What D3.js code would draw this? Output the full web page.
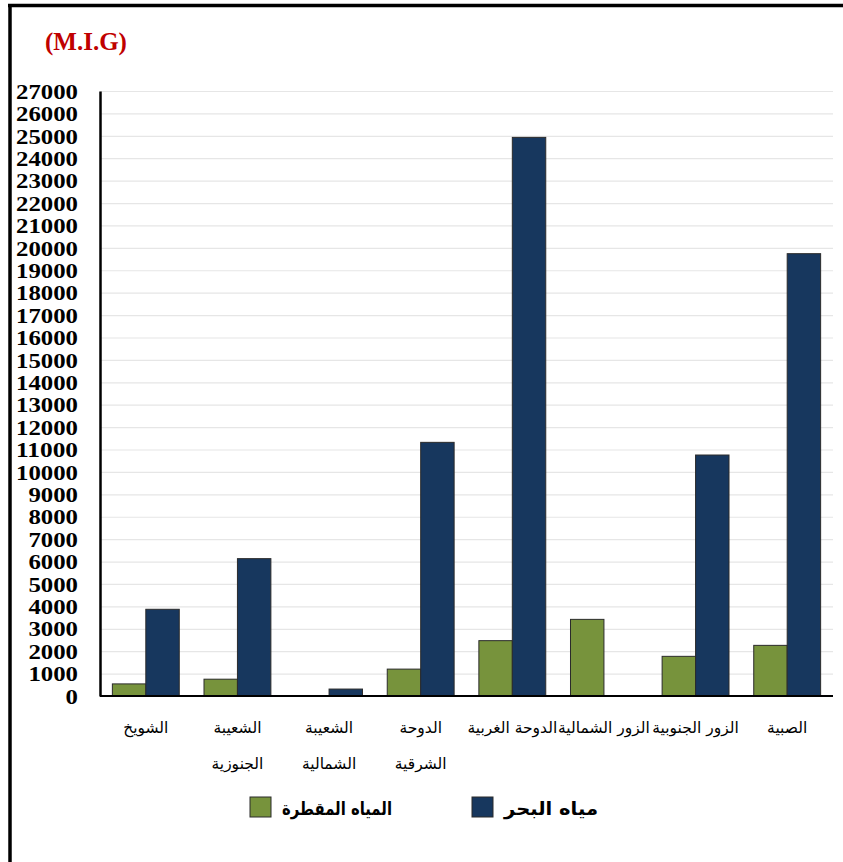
<!DOCTYPE html>
<html>
<head>
<meta charset="utf-8">
<script src="https://cdn.jsdelivr.net/npm/d3@7"></script>
<style>
  body { margin: 0; background: #fff; }
  svg { display: block; }
</style>
</head>
<body>
<svg id="chart" width="843" height="862"></svg>
<script>
// المحطات
const categories = ['الشويخ', 'الشعيبة الجنوزية', 'الشعيبة الشمالية', 'الدوحة الشرقية', 'الدوحة الغربية', 'الزور الشمالية', 'الزور الجنوبية', 'الصبية']
// labels that wrap onto two lines
const labelLines = [['الشويخ'], ['الشعيبة', 'الجنوزية'], ['الشعيبة', 'الشمالية'], ['الدوحة', 'الشرقية'], ['الدوحة الغربية'], ['الزور الشمالية'], ['الزور الجنوبية'], ['الصبية']]
const seriesNames = ['المياه المقطرة', 'مياه البحر']
const distilled = [540, 750, 0, 1200, 2470, 3420, 1770, 2260]
const seawater = [3870, 6130, 310, 11320, 24930, 0, 10755, 19740]
const yTicks = d3.range(0, 27001, 1000)
const unitLabel = '(M.I.G)'

const colors = ['#77933c', '#17375e']

const svg = d3.select('#chart')
const margin = { left: 100, right: 10, top: 91, bottom: 166 }
const width = +svg.attr('width')
const height = +svg.attr('height')

// frame (top + left edges only visible)
svg.append('line').attr('x1', 8).attr('x2', width).attr('y1', 5.5).attr('y2', 5.5)
  .attr('stroke', '#000').attr('stroke-width', 3.5)
svg.append('line').attr('x1', 10).attr('x2', 10).attr('y1', 4).attr('y2', height)
  .attr('stroke', '#000').attr('stroke-width', 3.5)

const x = d3.scaleBand()
  .domain(categories)
  .range([margin.left, 833])
  .paddingInner(0.27)
  .paddingOuter(0.135)

const x1 = d3.scaleBand().domain(seriesNames).range([0, x.bandwidth()])

const y = d3.scaleLinear().domain([0, 27000]).range([696, 91])

// gridlines
svg.append('g')
  .selectAll('line')
  .data(yTicks.filter(d => d > 0))
  .join('line')
  .attr('x1', margin.left)
  .attr('x2', 833)
  .attr('y1', d => y(d) + 0.5)
  .attr('y2', d => y(d) + 0.5)
  .attr('stroke', '#e6e6e6')
  .attr('stroke-width', 1.2)

// bars
const rows = categories.map((c, i) => ({ cat: c, values: [distilled[i], seawater[i]] }))
const groups = svg.append('g')
  .selectAll('g')
  .data(rows)
  .join('g')
  .attr('transform', d => `translate(${x(d.cat)},0)`)

groups.selectAll('rect')
  .data(d => d.values.map((v, k) => ({ key: seriesNames[k], v, k })).filter(e => e.v > 0))
  .join('rect')
  .attr('x', d => x1(d.key))
  .attr('y', d => y(d.v))
  .attr('width', x1.bandwidth())
  .attr('height', d => y(0) - y(d.v))
  .attr('fill', d => colors[d.k])
  .attr('stroke', '#2b2b2b')
  .attr('stroke-width', 1)

// y axis
const yAxis = d3.axisLeft(y).tickValues(yTicks).tickSize(0).tickPadding(22).tickFormat(d3.format('d'))
const gy = svg.append('g').attr('transform', `translate(${margin.left},0)`).call(yAxis)
gy.select('.domain').attr('stroke', '#000').attr('stroke-width', 2.5)
gy.selectAll('text')
  .attr('font-family', '"Liberation Serif", "Times New Roman", serif')
  .attr('font-weight', 'bold')
  .attr('font-size', 20)
  .attr('fill', '#000')
  .attr('dy', '0.36em')
  .attr('textLength', d => String(d).length * 12.4)
  .attr('lengthAdjust', 'spacingAndGlyphs')

// x axis baseline
svg.append('line')
  .attr('x1', margin.left).attr('x2', 833)
  .attr('y1', y(0)).attr('y2', y(0))
  .attr('stroke', '#000').attr('stroke-width', 2)

// category labels
const xl = svg.append('g')
  .selectAll('text')
  .data(categories)
  .join('text')
  .attr('x', d => x(d) + x.bandwidth() / 2)
  .attr('y', 733)
  .attr('text-anchor', 'middle')
  .attr('font-family', '"DejaVu Sans", sans-serif')
  .attr('font-size', 15.5)
  .attr('fill', '#000')
xl.selectAll('tspan')
  .data((d, i) => labelLines[i])
  .join('tspan')
  .attr('x', function () { return d3.select(this.parentNode).attr('x') })
  .attr('dy', (d, i) => i === 0 ? 0 : 36)
  .text(d => d)

// unit title
svg.append('text')
  .attr('x', 45).attr('y', 50)
  .attr('font-family', '"Liberation Serif", "Times New Roman", serif')
  .attr('font-weight', 'bold')
  .attr('font-size', 25)
  .attr('fill', '#c00000')
  .text(unitLabel)

// legend
const legendX = [250, 472]
const legendW = [110, 94]
const legend = svg.append('g')
  .selectAll('g')
  .data(seriesNames)
  .join('g')
  .attr('transform', (d, i) => `translate(${legendX[i]},797)`)
legend.append('rect')
  .attr('width', 21).attr('height', 20)
  .attr('fill', (d, i) => colors[i])
  .attr('stroke', '#2b2b2b')
legend.append('text')
  .attr('x', 32).attr('y', 18)
  .attr('font-family', '"DejaVu Sans", sans-serif')
  .attr('font-weight', 'bold')
  .attr('font-size', 18)
  .attr('fill', '#000')
  .attr('textLength', (d, i) => legendW[i])
  .attr('lengthAdjust', 'spacingAndGlyphs')
  .text(d => d)
</script>
</body>
</html>
